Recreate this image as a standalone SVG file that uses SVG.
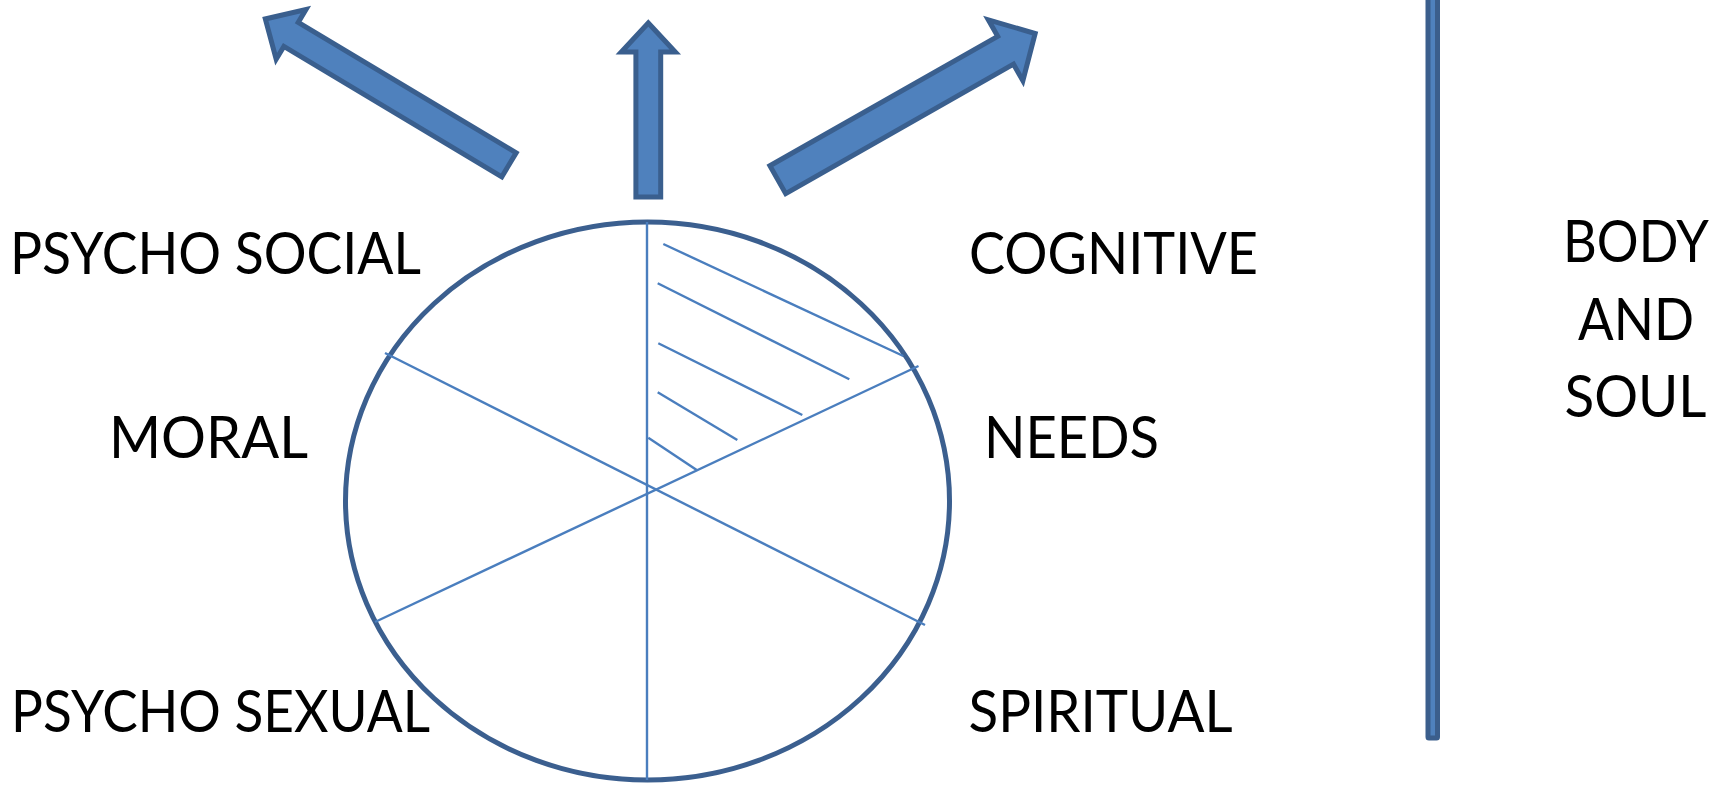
<svg xmlns="http://www.w3.org/2000/svg" width="1725" height="786" viewBox="0 0 1725 786">
<style>
.arrow{fill:#4f81bd;stroke:#3a5f8e;stroke-width:5;stroke-linejoin:miter;stroke-miterlimit:10}
.ring{fill:#ffffff;stroke:#3b5f8f;stroke-width:5}
.ln{stroke:#4a7ebe;stroke-width:2.4;fill:none}
.lbl{font-family:Lato,"Liberation Sans",sans-serif;font-size:57.6px;fill:#000000}
.bar{fill:#4f81bd;stroke:#3b5e8c;stroke-width:5}
</style>
<rect width="1725" height="786" fill="#ffffff"/>
<g id="connectors">
<polygon id="arrow-left" class="arrow" transform="translate(509,164.8) rotate(210.9)" points="0,-14 254,-14 254,-29 284,0 254,29 254,14 0,14"/>
<polygon id="arrow-up" class="arrow" transform="translate(648.3,197) rotate(-90)" points="0,-12.4 145,-12.4 145,-27 174,0 145,27 145,12.4 0,12.4"/>
<polygon id="arrow-right" class="arrow" transform="translate(777.8,179.7) rotate(-29.6)" points="0,-16 262,-16 262,-35 296,0 262,35 262,16 0,16"/>
</g>
<g id="wheel">
<ellipse class="ring" cx="647.5" cy="501" rx="302" ry="279"/>
<line class="ln" x1="647" y1="222" x2="647" y2="780"/>
<line class="ln" x1="385" y1="353" x2="925" y2="625"/>
<line class="ln" x1="375" y1="622" x2="918.5" y2="366"/>
<line class="ln" x1="663.3" y1="244" x2="903.3" y2="356"/>
<line class="ln" x1="657.7" y1="283.3" x2="849.3" y2="379.3"/>
<line class="ln" x1="658.3" y1="343.3" x2="802.3" y2="415"/>
<line class="ln" x1="657.7" y1="392.3" x2="737.3" y2="440"/>
<line class="ln" x1="648.3" y1="437.7" x2="696.7" y2="470"/>
</g>
<g id="divider">
<rect class="bar" x="1428" y="-10" width="9.5" height="748" rx="1"/>
</g>
<g id="label-psycho-social"><text class="lbl" x="10" y="274" textLength="411" lengthAdjust="spacingAndGlyphs">PSYCHO SOCIAL</text></g>
<g id="label-moral"><text class="lbl" x="109" y="458" textLength="199" lengthAdjust="spacingAndGlyphs">MORAL</text></g>
<g id="label-psycho-sexual"><text class="lbl" x="11" y="732" textLength="419" lengthAdjust="spacingAndGlyphs">PSYCHO SEXUAL</text></g>
<g id="label-cognitive"><text class="lbl" x="969" y="273.5" textLength="289" lengthAdjust="spacingAndGlyphs">COGNITIVE</text></g>
<g id="label-needs"><text class="lbl" x="984" y="458" textLength="175" lengthAdjust="spacingAndGlyphs">NEEDS</text></g>
<g id="label-spiritual"><text class="lbl" x="968.5" y="732" textLength="264" lengthAdjust="spacingAndGlyphs">SPIRITUAL</text></g>
<g id="label-body-soul">
<text class="lbl" x="1563" y="261.7" textLength="146" lengthAdjust="spacingAndGlyphs">BODY</text>
<text class="lbl" x="1578" y="340" textLength="116" lengthAdjust="spacingAndGlyphs">AND</text>
<text class="lbl" x="1564.5" y="416.7" textLength="142" lengthAdjust="spacingAndGlyphs">SOUL</text>
</g>
</svg>
